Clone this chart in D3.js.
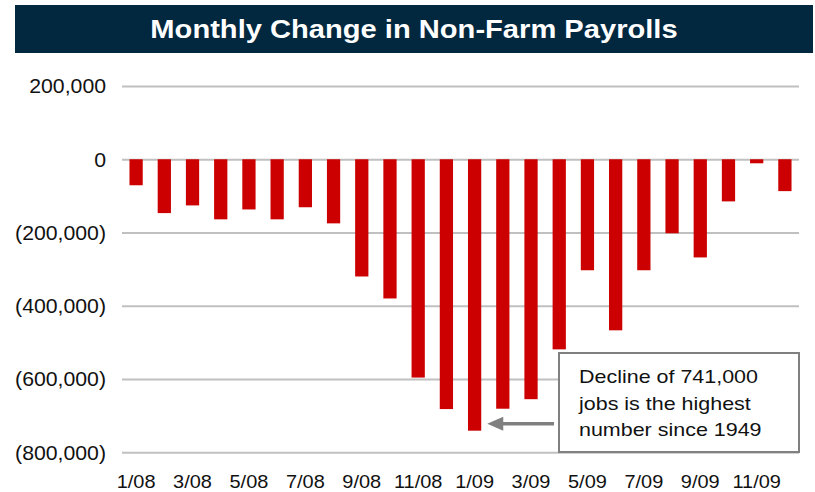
<!DOCTYPE html>
<html>
<head>
<meta charset="utf-8">
<script src="https://cdn.jsdelivr.net/npm/d3@7"></script>
<style>
  body { margin: 0; background: #fff; }
  svg { display: block; font-family: "Liberation Sans", Arial, sans-serif; }
</style>
</head>
<body>
<div id="chart"></div>
<script>
// data
const months = ['1/08','2/08','3/08','4/08','5/08','6/08','7/08','8/08','9/08','10/08','11/08','12/08',
                '1/09','2/09','3/09','4/09','5/09','6/09','7/09','8/09','9/09','10/09','11/09','12/09'];
const payrollChange = [-71000,-147000,-126000,-164000,-137000,-164000,-131000,-175000,-320000,-380000,-596000,-682000,
                       -741000,-681000,-655000,-519000,-303000,-467000,-303000,-202000,-268000,-115000,-11000,-87000];
const yTicks = [200000, 0, -200000, -400000, -600000, -800000];
const xTickLabels = ['1/08','3/08','5/08','7/08','9/08','11/08','1/09','3/09','5/09','7/09','9/09','11/09'];
const title = 'Monthly Change in Non-Farm Payrolls';
const note = ['Decline of 741,000', 'jobs is the highest', 'number since 1949'];

const width = 815;
const height = 492;
const margin = { top: 86, bottom: 40, left: 122, right: 16 };

const svg = d3.select('#chart')
  .append('svg')
  .attr('width', width)
  .attr('height', height);

// title banner
svg.append('rect')
  .attr('x', 15).attr('y', 5)
  .attr('width', 798).attr('height', 48)
  .attr('fill', '#02283f');
svg.append('text')
  .attr('transform', 'translate(414,38) scale(1.12,1)')
  .attr('text-anchor', 'middle')
  .attr('font-size', '26px')
  .attr('font-weight', 'bold')
  .attr('fill', '#fff')
  .text(title);

// scales
const x = d3.scaleBand()
  .domain(months)
  .range([margin.left, width - margin.right])
  .paddingInner(0.53)
  .paddingOuter(0.265);

const y = d3.scaleLinear()
  .domain([-800000, 200000])
  .range([452.3, margin.top]);

const fmt = d3.format(',');
const yFormat = d => d < 0 ? `(${fmt(-d)})` : fmt(d);

// y-axis with gridlines
const yAxis = (g) => {
  g.attr('transform', `translate(${margin.left},0)`)
    .call(d3.axisLeft(y).tickValues(yTicks).tickFormat(yFormat).tickSize(-(width - margin.right - margin.left)))
    .call(g => g.select('.domain').remove())
    .call(g => g.selectAll('.tick line').attr('stroke', '#c0c0c0').attr('stroke-width', 2))
    .call(g => g.selectAll('.tick text')
      .attr('x', -16 / 1.09)
      .attr('dy', '0.35em')
      .attr('transform', 'scale(1.09,1)')
      .attr('font-size', '19.5px')
      .attr('fill', '#111'));
};
svg.append('g').call(yAxis);

// bars
svg.append('g')
  .attr('fill', '#cc0000')
  .selectAll('rect')
  .data(payrollChange)
  .join('rect')
    .attr('x', (d, i) => x(months[i]))
    .attr('y', d => y(Math.max(0, d)))
    .attr('width', x.bandwidth())
    .attr('height', d => Math.abs(y(d) - y(0)));

// x-axis labels
const xAxis = (g) => {
  g.attr('transform', `translate(0,${height - 4.5})`)
    .call(d3.axisBottom(x).tickValues(xTickLabels).tickSize(0).tickPadding(0))
    .call(g => g.select('.domain').remove())
    .call(g => g.selectAll('.tick text')
      .attr('y', 0).attr('dy', 0)
      .attr('transform', 'scale(1.05,1)')
      .attr('font-size', '19px')
      .attr('fill', '#111'));
};
svg.append('g').call(xAxis);

// annotation box
svg.append('rect')
  .attr('x', 559).attr('y', 353)
  .attr('width', 240).attr('height', 99)
  .attr('fill', '#fff')
  .attr('stroke', '#808080')
  .attr('stroke-width', 2);

svg.append('g')
  .selectAll('text')
  .data(note)
  .join('text')
    .attr('transform', (d, i) => `translate(579,${383 + i * 26.5}) scale(1.13,1)`)
    .attr('font-size', '19px')
    .attr('fill', '#111')
    .text(d => d);

// arrow pointing at the January 2009 bar
const arrowY = y(-741000) - 7;
const tipX = x('1/09') + x.bandwidth() + 6;
svg.append('line')
  .attr('x1', 554).attr('y1', arrowY)
  .attr('x2', tipX + 14).attr('y2', arrowY)
  .attr('stroke', '#808080')
  .attr('stroke-width', 3.5);
svg.append('path')
  .attr('d', `M${tipX},${arrowY} L${tipX + 16},${arrowY - 7} L${tipX + 16},${arrowY + 7} Z`)
  .attr('fill', '#808080');
</script>
</body>
</html>
